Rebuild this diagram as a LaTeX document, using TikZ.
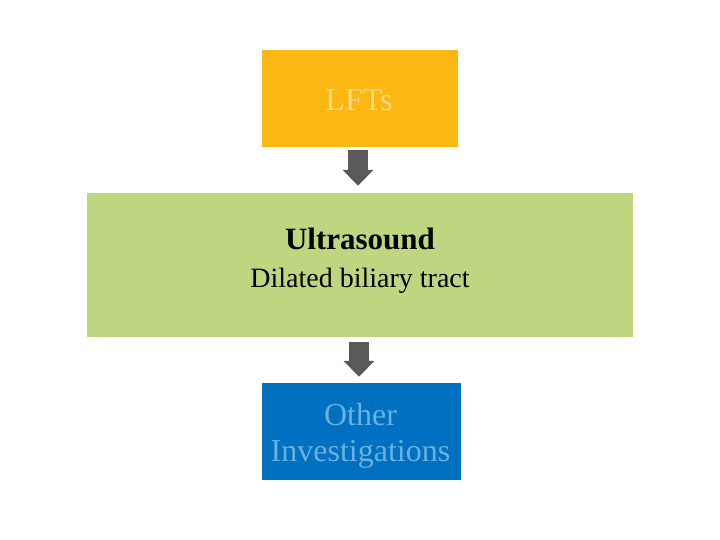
\documentclass[tikz,border=0pt]{standalone}
\usepackage{fontspec}
\setmainfont{Liberation Serif}
\usetikzlibrary{arrows.meta}
\definecolor{lftorange}{HTML}{FBB813}
\definecolor{lfttext}{HTML}{F7D98C}
\definecolor{usgreen}{HTML}{BDD67F}
\definecolor{invblue}{HTML}{0070C0}
\definecolor{invtext}{HTML}{6AB0E2}
\definecolor{arrowgrey}{HTML}{595959}
\tikzset{
	box/.style={inner sep=0pt},
	boxtext/.style={inner sep=0pt, align=center},
	blockarrow/.style={line width=20pt, arrowgrey, -{Triangle[width=30pt,length=16pt]}}
}
\begin{document}
\begin{tikzpicture}[x=1pt,y=-1pt]
		\useasboundingbox[fill=white] (0,0) rectangle (720,540);
		% the three boxes
		\node[box, fill=lftorange, minimum width=196pt, minimum height=97pt] (lfts) at (360,98.5) {};
		\node[box, fill=usgreen, minimum width=546pt, minimum height=144pt] (us) at (360,265) {};
		\node[box, fill=invblue, minimum width=199pt, minimum height=97pt] (inv) at (361.5,431.5) {};
		% their texts
		\node[boxtext, text=lfttext, font=\fontsize{32}{36}\selectfont] (lftslabel) at ([xshift=-1pt,yshift=-2pt]lfts.center) {LFTs};
		\node[boxtext, font=\fontsize{28}{38}\selectfont] (uslabel) at ([yshift=4pt]us.center) {\fontsize{31}{38}\selectfont\textbf{Ultrasound}\\Dilated biliary tract};
		\node[boxtext, text=invtext, font=\fontsize{32}{36}\selectfont] (invlabel) at ([xshift=-1pt,yshift=-4pt]inv.center) {Other\\Investigations};
		% arrows
		\draw[blockarrow] ([xshift=-2pt,yshift=-3pt]lfts.south) -- ([xshift=-2pt,yshift=7pt]us.north);
		\draw[blockarrow] ([xshift=-1pt,yshift=-5pt]us.south) -- ([xshift=-2.5pt,yshift=6pt]inv.north);
\end{tikzpicture}
\end{document}
